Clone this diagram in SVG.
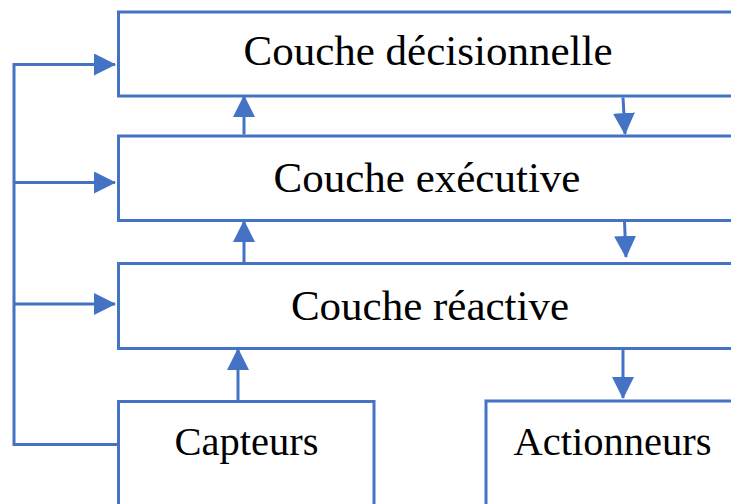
<svg xmlns="http://www.w3.org/2000/svg" width="731" height="504" viewBox="0 0 731 504">
<style>
.box{fill:#fff;stroke:#4472C4;stroke-width:3}
.lbl{font-family:"Liberation Serif","Times New Roman",serif;fill:#000;text-anchor:middle}
.big{font-size:43px}
.sm{font-size:40.5px}
.con{fill:none;stroke:#4472C4;stroke-width:3}
</style>
<defs>
<marker id="ah" markerUnits="userSpaceOnUse" markerWidth="22" markerHeight="22" refX="21" refY="11" orient="auto">
<path d="M0,0 L22,11 L0,22 Z" fill="#4472C4"/>
</marker>
</defs>
<rect width="731" height="504" fill="#fff"/>
<g id="decisionnelle">
<rect class="box" x="118.5" y="12" width="620" height="84"/>
<text class="lbl big" x="428" y="65">Couche décisionnelle</text>
</g>
<g id="executive">
<rect class="box" x="118.5" y="136" width="620" height="84.5"/>
<text class="lbl big" x="427" y="192">Couche exécutive</text>
</g>
<g id="reactive">
<rect class="box" x="118.5" y="263.5" width="620" height="85"/>
<text class="lbl big" x="430" y="320">Couche réactive</text>
</g>
<g id="capteurs">
<rect class="box" x="118.5" y="401.5" width="255.5" height="130"/>
<text class="lbl sm" x="246.5" y="455">Capteurs</text>
</g>
<g id="actionneurs">
<rect class="box" x="486" y="401" width="253" height="130"/>
<text class="lbl sm" x="612.5" y="455">Actionneurs</text>
</g>
<g id="connectors">
<path class="con" d="M118.5,444.5 H14 V64.5 H115" marker-end="url(#ah)"/>
<path class="con" d="M14,182.5 H115" marker-end="url(#ah)"/>
<path class="con" d="M14,304 H115" marker-end="url(#ah)"/>
<path class="con" d="M244,134.5 V96" marker-end="url(#ah)"/>
<path class="con" d="M244,262 V221" marker-end="url(#ah)"/>
<path class="con" d="M238,400 V349" marker-end="url(#ah)"/>
<path class="con" d="M623,97.5 L625,134" marker-end="url(#ah)"/>
<path class="con" d="M624.5,221.5 L626,257" marker-end="url(#ah)"/>
<path class="con" d="M623,349.5 V398" marker-end="url(#ah)"/>
</g>
</svg>
